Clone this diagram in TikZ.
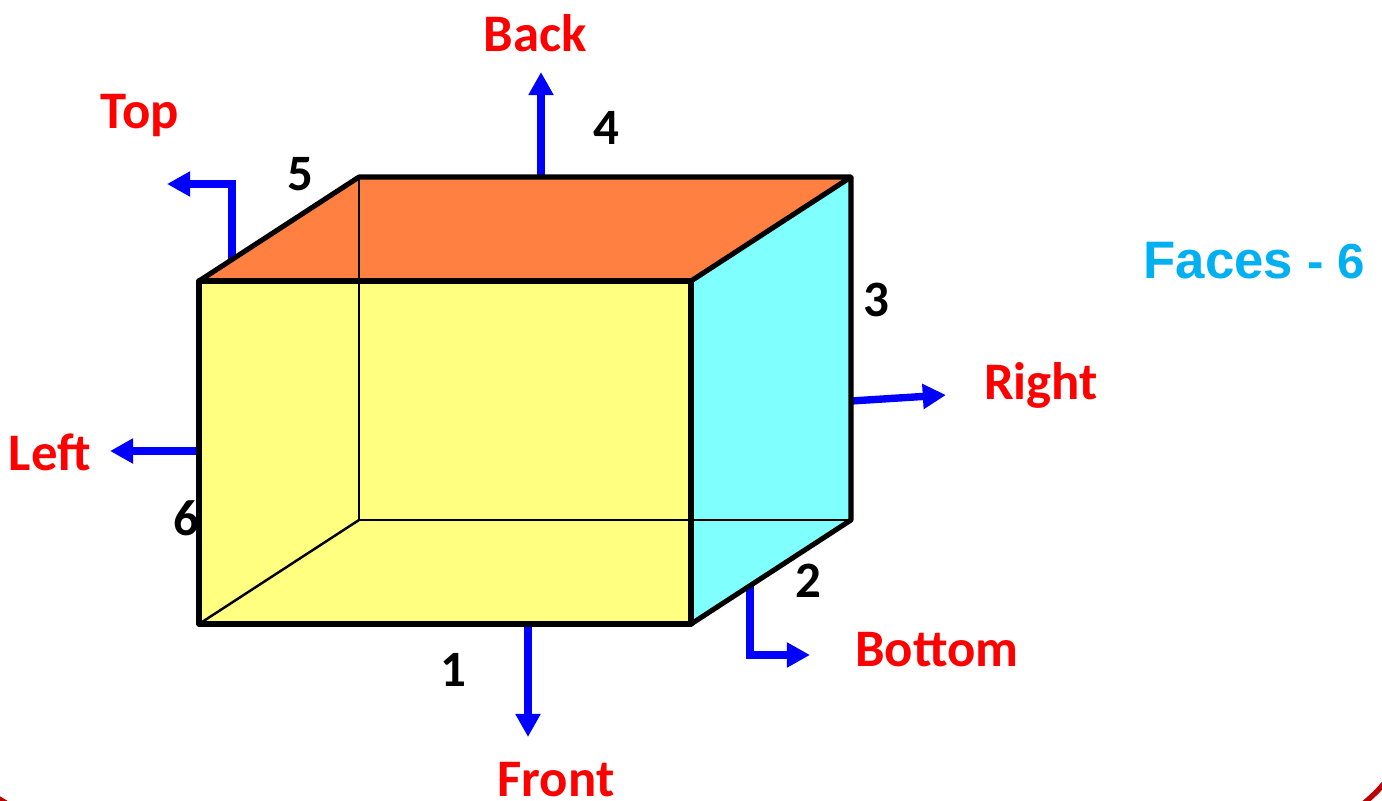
\documentclass[tikz,border=0pt]{standalone}
\usepackage{fontspec}
\setmainfont{Carlito}
\newfontfamily\facesfont{Liberation Sans}
\usetikzlibrary{arrows.meta}

\tikzset{
    label_red/.style={text=red, font=\fontsize{15}{17}\selectfont\bfseries, inner sep=0pt},
    label_num/.style={text=black, font=\fontsize{14.5}{16}\selectfont\bfseries, inner sep=0pt},
    edge_thick/.style={draw=black, line width=1.45pt, line join=round},
    edge_thin/.style={draw=black, line width=0.7pt},
    normal/.style={draw=blue, line width=2.1pt, line join=miter, -{Triangle[length=6.6pt, width=6.8pt]}},
    rim/.style={draw=red!75!black, line width=1.5pt}
}

\begin{document}
\begin{tikzpicture}[x=0.01cm, y=-0.01cm]
    \useasboundingbox (0,0) rectangle (1382,800);
    \clip (0,0) rectangle (1382,800);

    % Slide rim
    \draw[rim] (1390,775) .. controls (1382,787) and (1376,793) .. (1363,804);
    \draw[rim] (-4,797) -- (6,803);

    % Corners of the box
    \coordinate (F_TL) at (199,281);
    \coordinate (F_TR) at (691,281);
    \coordinate (F_BR) at (691,624);
    \coordinate (F_BL) at (199,624);
    \coordinate (B_TL) at (359,177);
    \coordinate (B_TR) at (851,177);
    \coordinate (B_BR) at (851,520);
    \coordinate (B_BL) at (359,520);

    % Edge numbers and caption
    \node[label_num] (N_1) at (453,670) {1};
    \node[label_num] (N_2) at (808,581) {2};
    \node[label_num] (N_3) at (876,300) {3};
    \node[label_num] (N_4) at (606,128) {4};
    \node[label_num] (N_5) at (300,174) {5};
    \node[label_num] (N_6) at (186,518) {6};
    \node[inner sep=0pt, text={rgb,255:red,0;green,176;blue,240}, anchor=base west] (T_Faces) at (1143,278)
        {\facesfont\bfseries\fontsize{15}{17}\selectfont Faces \fontsize{14}{15}\selectfont - 6};

    % Normals - start on the faces, drawn below the box outline
    \coordinate (A_Back) at (541,177);
    \coordinate (E_Back) at (541,72);
    \coordinate (A_Top) at (232,262);
    \coordinate (C_Top) at (232,184);
    \coordinate (E_Top) at (167,184);
    \coordinate (A_Left) at (199,451);
    \coordinate (E_Left) at (110,451);
    \coordinate (A_Right) at (851,401);
    \coordinate (E_Right) at (946,395);
    \coordinate (A_Bottom) at (750,586);
    \coordinate (C_Bottom) at (750,655);
    \coordinate (E_Bottom) at (810,655);
    \coordinate (A_Front) at (528,624);
    \coordinate (E_Front) at (528,737);

    \draw[normal] (A_Back) -- (E_Back);
    \draw[normal] (A_Top) -- (C_Top) -- (E_Top);
    \draw[normal] (A_Left) -- (E_Left);
    \draw[normal] (A_Right) -- (E_Right);
    \draw[normal] (A_Bottom) -- (C_Bottom) -- (E_Bottom);
    \draw[normal] (A_Front) -- (E_Front);

    % Faces
    \fill[fill={rgb,255:red,255;green,128;blue,64}] (F_TL) -- (B_TL) -- (B_TR) -- (F_TR) -- cycle;
    \fill[fill={rgb,255:red,128;green,255;blue,255}] (F_TR) -- (B_TR) -- (B_BR) -- (F_BR) -- cycle;
    \fill[fill={rgb,255:red,255;green,255;blue,128}] (F_TL) -- (F_TR) -- (F_BR) -- (F_BL) -- cycle;

    % Hidden edges - thin lines
    \draw[edge_thin] (B_TL) -- (B_BL);
    \draw[edge_thin] (B_BL) -- (B_BR);
    \draw[edge_thin] (B_BL) -- (F_BL);

    % Outline - thick lines
    \draw[edge_thick] (F_TL) -- (F_TR) -- (F_BR) -- (F_BL) -- cycle;
    \draw[edge_thick] (F_TL) -- (B_TL) -- (B_TR) -- (F_TR);
    \draw[edge_thick] (B_TR) -- (B_BR) -- (F_BR);

    % Face names
    \node[label_red] (L_Back) at (535,33) {Back};
    \node[label_red] (L_Top) at (140,116) {Top};
    \node[label_red] (L_Left) at (50,452) {Left};
    \node[label_red] (L_Right) at (1041,385) {Right};
    \node[label_red] (L_Bottom) at (937,650) {Bottom};
    \node[label_red] (L_Front) at (556,780) {Front};
\end{tikzpicture}
\end{document}
